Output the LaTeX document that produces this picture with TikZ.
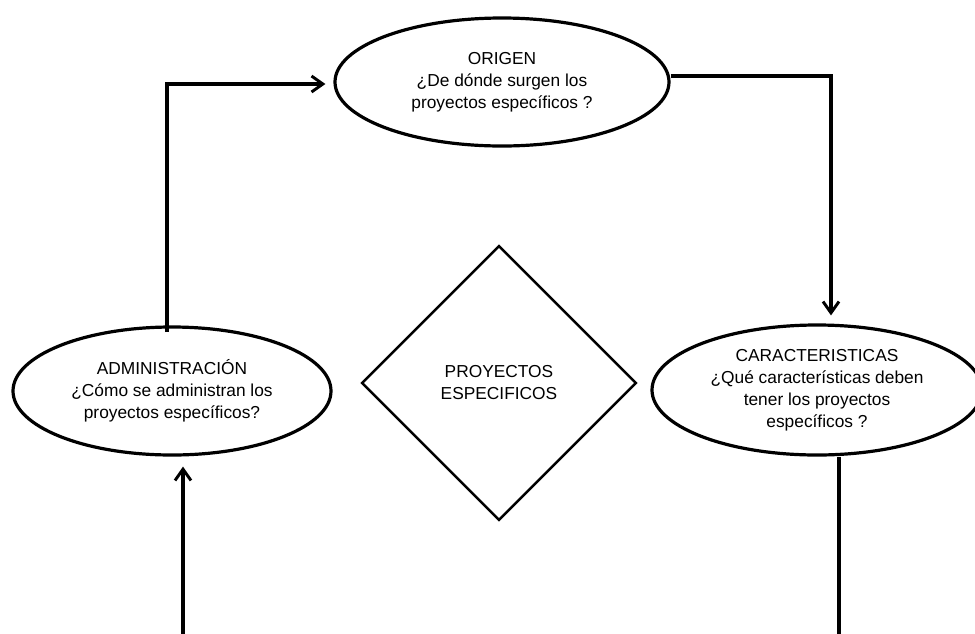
\documentclass[tikz,border=0pt]{standalone}
\usepackage{fontspec}
\setmainfont{Liberation Sans}
\usetikzlibrary{shapes.geometric,arrows.meta}
\begin{document}
\begin{tikzpicture}[x=0.75pt,y=-0.75pt,
  every node/.style={font=\fontsize{13}{16.5}\selectfont, align=center, inner sep=0pt},
  bubble/.style={ellipse, draw, line width=2.4pt},
  decision/.style={diamond, draw, line width=1.8pt, aspect=1},
  conn/.style={line width=2.4pt, line join=miter},
  arr/.style={conn, -{Straight Barb[length=8.5pt,width=12pt,line width=2.2pt]}, shorten >=6pt}]
  \clip (0,0) rectangle (975,633);
  \fill[white] (0,0) rectangle (975,633);

  % the four blocks
  \node[bubble, minimum width=250.5pt, minimum height=96pt] (O) at (502,82)
    {ORIGEN\\¿De dónde surgen los\\proyectos específicos ?};
  \node[bubble, minimum width=238.5pt, minimum height=96pt] (A) at (172,391)
    {ADMINISTRACIÓN\\¿Cómo se administran los\\proyectos específicos?};
  \node[bubble, minimum width=247.5pt, minimum height=97.5pt] (C) at (817,390)
    {CARACTERISTICAS\\¿Qué características deben\\tener los proyectos\\específicos ?};
  \node[decision, minimum width=206pt, minimum height=206pt] (P) at (499,383)
    {PROYECTOS\\ESPECIFICOS};

  % corner and edge points of the loop
  \coordinate (al) at (167,84);
  \coordinate (ct) at (831,76);
  \coordinate (cb) at (839,640);
  \coordinate (ab) at (183,640);

  % connectors
  \draw[arr] ([yshift=-5pt]al |- A.north) -- (al) -- (al -| O.west);
  \draw[arr] (ct -| O.east) -- (ct) -- (ct |- C.north);
  \draw[conn] (cb |- C.south) -- (cb);
  \draw[arr, shorten >=7.5pt] (ab) -- (ab |- A.south);
\end{tikzpicture}
\end{document}
